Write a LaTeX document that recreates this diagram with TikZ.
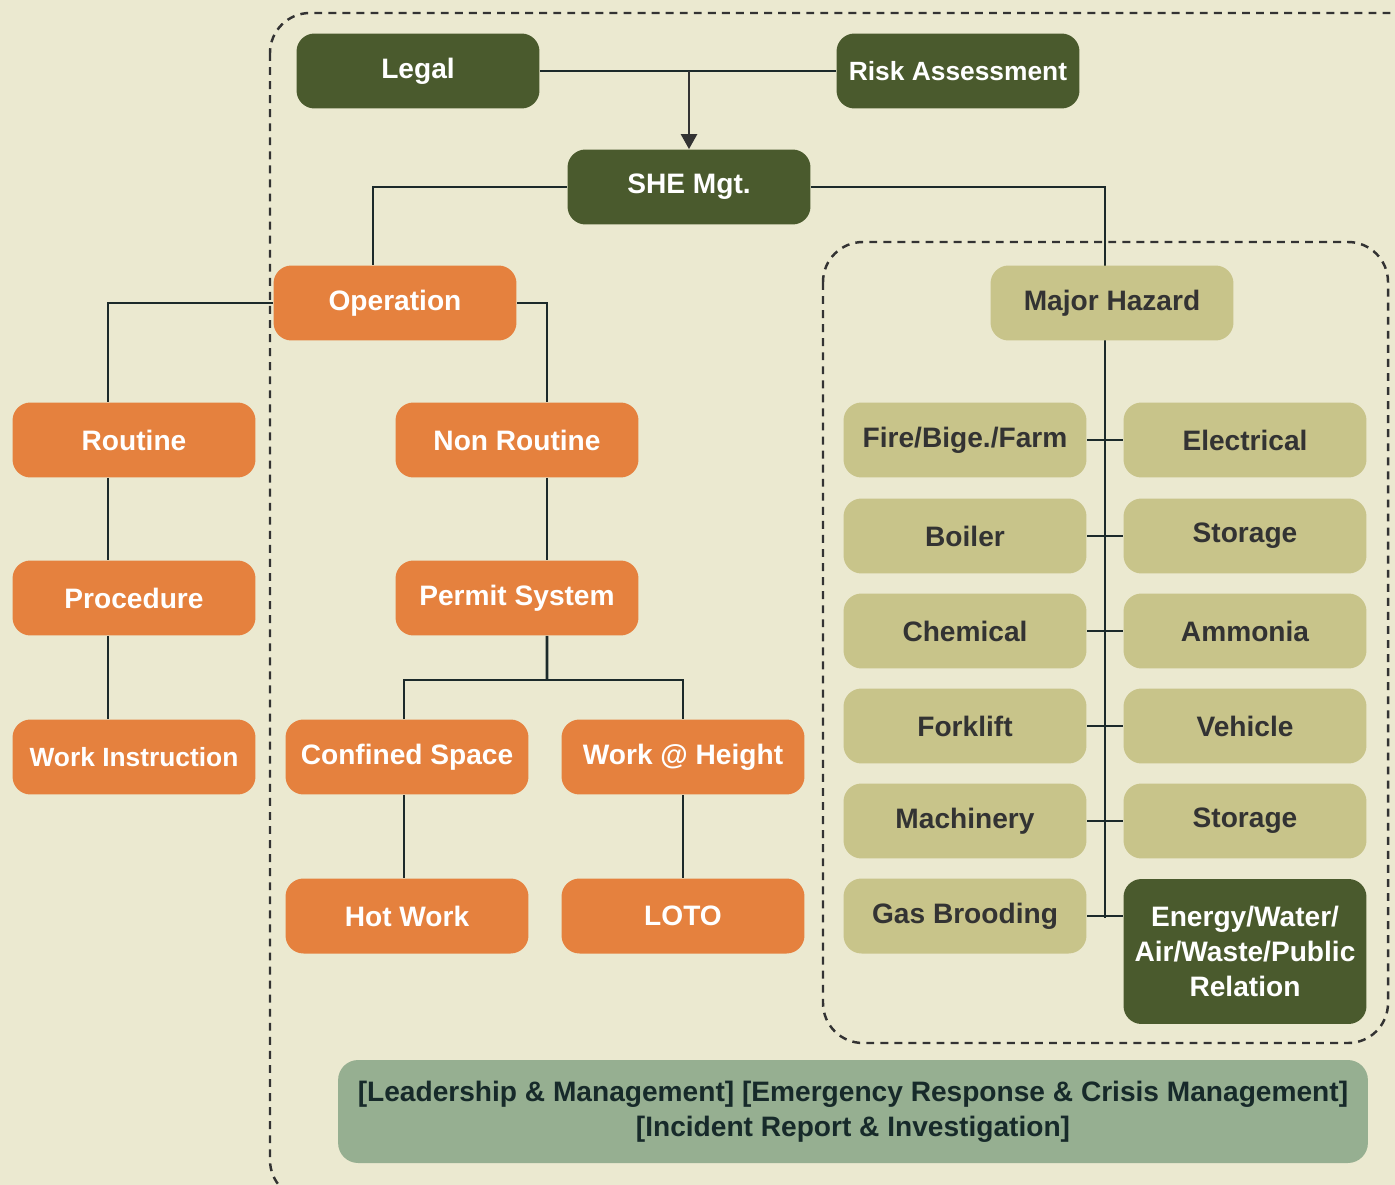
\documentclass[tikz,border=0pt]{standalone}
\usepackage{fontspec}
\setmainfont{Liberation Sans}
\usetikzlibrary{arrows.meta,calc}
\definecolor{bgc}{HTML}{EBE9D0}
\definecolor{dgreen}{HTML}{4A5A2D}
\definecolor{orangec}{HTML}{E5813E}
\definecolor{khaki}{HTML}{C8C48A}
\definecolor{sage}{HTML}{96AF91}
\definecolor{linec}{HTML}{1C2A2A}
\definecolor{darktxt}{HTML}{333333}
\definecolor{bottxt}{HTML}{172A2A}
\pgfdeclarelayer{bg}
\pgfdeclarelayer{lines}
\pgfsetlayers{bg,lines,main}
\tikzset{
  box/.style={minimum width=4.86cm, minimum height=1.5cm, rounded corners=0.36cm, inner sep=0pt,
    font=\fontsize{16}{20}\selectfont\bfseries, align=center},
  smallfont/.style={font=\fontsize{15}{20}\selectfont\bfseries},
  greenbox/.style={box, fill=dgreen, text=white},
  orangebox/.style={box, fill=orangec, text=white},
  khakibox/.style={box, fill=khaki, text=darktxt},
  conn/.style={draw=linec, line width=1.6pt},
  dashbox/.style={draw=darktxt, line width=1.4pt, dash pattern=on 4.5pt off 3.5pt, rounded corners=0.8cm},
}
\begin{document}
\begin{tikzpicture}[x=0.02cm,y=-0.02cm]
\useasboundingbox (0,0) rectangle (1395,1185);
\begin{pgfonlayer}{bg}
\fill[bgc] (0,0) rectangle (1395,1185);
\begin{scope}
\clip (0,0) rectangle (1395,1185);
\draw[dashbox] (270,13) rectangle (1460,1200);
\end{scope}
\draw[dashbox] (823,242) rectangle (1388,1043);
\end{pgfonlayer}

% nodes
\node[greenbox] (legal) at (418,71) {Legal};
\node[greenbox, smallfont] (risk) at (958,71) {Risk Assessment};
\node[greenbox] (she) at (689,187) {SHE Mgt.};
\node[orangebox] (op) at (395,303) {Operation};
\node[orangebox] (routine) at (134,440) {Routine};
\node[orangebox] (proc) at (134,598) {Procedure};
\node[orangebox, smallfont] (wi) at (134,757) {Work Instruction};
\node[orangebox] (nr) at (517,440) {Non Routine};
\node[orangebox] (permit) at (517,598) {Permit System};
\node[orangebox] (conf) at (407,757) {Confined Space};
\node[orangebox] (wah) at (683,757) {Work @ Height};
\node[orangebox] (hot) at (407,916) {Hot Work};
\node[orangebox] (loto) at (683,916) {LOTO};
\node[khakibox] (mh) at (1112,303) {Major Hazard};
\node[khakibox] (fire) at (965,440) {Fire/Bige./Farm};
\node[khakibox] (boiler) at (965,536) {Boiler};
\node[khakibox] (chem) at (965,631) {Chemical};
\node[khakibox] (fork) at (965,726) {Forklift};
\node[khakibox] (mach) at (965,821) {Machinery};
\node[khakibox] (gas) at (965,916) {Gas Brooding};
\node[khakibox] (elec) at (1245,440) {Electrical};
\node[khakibox] (stor1) at (1245,536) {Storage};
\node[khakibox] (amm) at (1245,631) {Ammonia};
\node[khakibox] (veh) at (1245,726) {Vehicle};
\node[khakibox] (stor2) at (1245,821) {Storage};
\node[greenbox, minimum height=2.9cm, text width=4.7cm] (energy) at (1245,951.5) {Energy/Water/\\Air/Waste/Public\\Relation};
\node[box, fill=sage, text=bottxt, minimum width=20.6cm, minimum height=2.06cm, rounded corners=0.4cm] (bottom) at (853,1111.5)
  {[Leadership \& Management] [Emergency Response \& Crisis Management]\\{}[Incident Report \& Investigation]};

\coordinate (pj) at (547,680);
\coordinate (spineend) at (1105,918);

\begin{pgfonlayer}{lines}
\draw[conn] (legal.east) -- (risk.west);
\draw[line width=1.6pt, draw=darktxt, -{Triangle[width=9pt,length=8.5pt]}] (she.north |- legal.east) -- (she.north);
\draw[conn] (she.west) -| ([xshift=-0.44cm]op.north);
\draw[conn] (she.east) -| (spineend);
\draw[conn] (op.west) -| ([xshift=-0.52cm]routine.north);
\draw[conn] ([xshift=-0.52cm]routine.south) -- ([xshift=-0.52cm]proc.north);
\draw[conn] ([xshift=-0.52cm]proc.south) -- ([xshift=-0.52cm]wi.north);
\draw[conn] (op.east) -| ([xshift=0.6cm]nr.north);
\draw[conn] ([xshift=0.6cm]nr.south) -- ([xshift=0.6cm]permit.north);
\draw[conn] ([xshift=0.6cm]permit.south) -- (pj);
\draw[conn] ([xshift=-0.06cm]conf.north) |- (pj) -| (wah.north);
\draw[conn] ([xshift=-0.06cm]conf.south) -- ([xshift=-0.06cm]hot.north);
\draw[conn] (wah.south) -- (loto.north);
\draw[conn] (fire.east) -- (elec.west);
\draw[conn] (boiler.east) -- (stor1.west);
\draw[conn] (chem.east) -- (amm.west);
\draw[conn] (fork.east) -- (veh.west);
\draw[conn] (mach.east) -- (stor2.west);
\draw[conn] (gas.east) -- (gas.east -| energy.west);
\end{pgfonlayer}
\end{tikzpicture}
\end{document}
